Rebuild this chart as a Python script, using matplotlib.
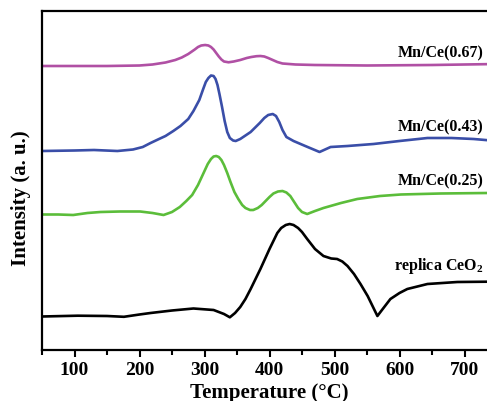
import matplotlib
matplotlib.use("Agg")
import matplotlib.pyplot as plt
from matplotlib.ticker import MultipleLocator

plt.rcParams['font.family'] = ['Liberation Serif', 'DejaVu Serif']
plt.rcParams['font.weight'] = 'bold'
plt.rcParams['mathtext.fontset'] = 'custom'
plt.rcParams['mathtext.bf'] = 'Liberation Serif:bold'

# temperature (°C) and intensity (a. u.)
t_067 = [50, 100, 150, 200, 220, 240, 255, 265, 275, 285, 290, 295, 301, 306, 310, 314,
         318, 322, 326, 330, 337, 345, 355, 365, 372, 380, 386, 392, 398, 405, 412, 420,
         430, 440, 470, 550, 650, 750]
i_067 = [284, 284, 284, 284.5, 285.5, 287.5, 290, 292.5, 296, 300.5, 303, 304.5, 305, 304.5, 303, 300.5,
         297, 293.5, 290.5, 288.5, 287.7, 288.5, 290, 292, 293, 293.8, 294, 293.5, 292, 290, 288, 286.5,
         286, 285.5, 285, 284.5, 285, 286]

t_043 = [50, 100, 130, 166, 190, 205, 217, 230, 240, 252, 263, 275, 283, 292, 298, 302,
         306, 310, 314, 317, 320, 323, 327, 331, 335, 339, 344, 348, 355, 363, 371, 378,
         385, 392, 398, 405, 410, 415, 420, 426, 437, 455, 477, 494, 520, 560, 600, 643,
         680, 714, 750]
i_043 = [199, 199.5, 200, 199, 200.5, 203, 207, 211, 214, 219, 224, 231, 239, 250, 261, 268,
         272, 274.5, 274, 271, 265, 256, 243, 229, 218, 212, 209.5, 209, 211, 214.5, 218, 222.5,
         227, 232, 235, 236, 234, 228, 220, 213, 209, 204, 198, 203, 204, 206, 209, 212,
         212, 211, 209]

t_025 = [50, 75, 98, 120, 140, 170, 201, 220, 237, 250, 262, 272, 281, 290, 300, 305,
         310, 314, 318, 322, 326, 330, 335, 340, 346, 352, 358, 363, 370, 375, 382, 388,
         394, 400, 406, 413, 420, 426, 432, 438, 444, 450, 458, 470, 483, 510, 535, 570,
         602, 663, 735, 750]
i_025 = [135.5, 135.5, 135, 137, 138, 138.5, 138.5, 137, 135, 138, 143, 149, 155, 165, 179, 186,
         191, 193.5, 194, 193, 190, 185, 177, 168, 158, 151, 145, 142, 140, 140, 142, 145,
         149, 153, 156.5, 158.5, 159, 157.5, 154, 148, 142, 138, 136, 139, 142, 147, 151, 154,
         155.5, 156.5, 157, 157]

t_ceo2 = [50, 105, 150, 176, 200, 217, 250, 283, 314, 330, 339, 347, 355, 363, 371, 386,
          400, 412, 418, 425, 431, 437, 444, 450, 458, 470, 483, 495, 504, 512, 520, 530,
          540, 551, 560, 566, 573, 586, 600, 612, 643, 689, 735, 750]
i_ceo2 = [33.5, 34.3, 34, 33.2, 35.5, 37, 39.5, 41.5, 40, 36, 32.7, 37, 43, 51, 61, 81,
          101, 117, 122, 125, 126, 125, 122, 118, 111, 101, 94, 91.5, 91, 88.5, 84, 76,
          66, 54, 42, 34, 40, 51, 57, 61, 66, 68, 68.3, 68.3]

series = [
    (t_067, i_067, '#b050a4', 'Mn/Ce(0.67)', 298),
    (t_043, i_043, '#3a4ea8', 'Mn/Ce(0.43)', 224),
    (t_025, i_025, '#5bbd3a', 'Mn/Ce(0.25)', 170),
    (t_ceo2, i_ceo2, '#000000', 'replica CeO$_\\mathbf{2}$', 85),
]

fig = plt.figure(figsize=(4.87, 4.02), dpi=100)
ax = fig.add_axes([42 / 487, 51 / 402, 455 / 487, 339 / 402])

for t, i, c, name, ly in series:
    ax.plot(t, i, color=c, lw=1.9, solid_joinstyle='round')
    ax.text(729, ly, name, ha='right', va='center', fontsize=11.5, fontweight='bold')

ax.set_xlim(50, 750)
ax.set_ylim(0, 339)
ax.set_yticks([])
ax.xaxis.set_major_locator(MultipleLocator(100))
ax.xaxis.set_minor_locator(MultipleLocator(50))
ax.tick_params(axis='x', which='major', length=5, width=1.5, labelsize=14, pad=3)
ax.tick_params(axis='x', which='minor', length=3.5, width=1.5)
for lab in ax.get_xticklabels():
    lab.set_fontweight('bold')
for s in ax.spines.values():
    s.set_linewidth(1.6)

ax.set_xlabel('Temperature (°C)', fontsize=15, fontweight='bold', labelpad=3)
ax.set_ylabel('Intensity (a. u.)', fontsize=15, fontweight='bold', labelpad=8)
ax.yaxis.label.set_y(0.45)

fig.savefig('out.png', dpi=100)
